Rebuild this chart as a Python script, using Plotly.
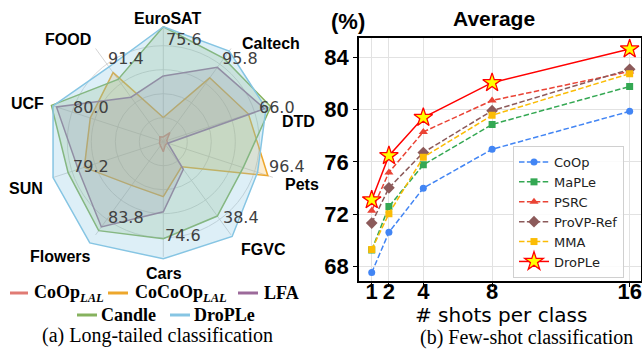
import plotly.graph_objects as go

W, H = 642, 352

# ---------------- (a) Long-tailed classification: radar data (normalised radius) -------------
radar_axes = ["EuroSAT", "Caltech", "DTD", "Pets", "FGVC", "Cars", "Flowers", "SUN", "UCF", "FOOD"]
radar_axis_values = ["75.6", "95.8", "66.0", "96.4", "38.4", "74.6", "83.8", "79.2", "80.0", "91.4"]
coop_lal = [0.20, 0.47, 0.15, 0.20, 0.15, 0.42, 0.20, 0.17, 0.15, 0.25]
cocoop_lal = [1.01, 3.29, 3.73, 4.58, 1.29, 2.29, 2.25, 3.46, 3.20, 3.56]
lfa = [2.74, 3.83, 4.44, 0.20, 1.42, 2.92, 4.39, 3.73, 4.68, 2.29]
candle = [4.79, 4.29, 4.71, 3.50, 3.83, 4.04, 4.58, 4.17, 4.90, 3.21]
drople_lt = [4.79, 4.67, 4.50, 4.13, 4.88, 4.88, 5.21, 4.83, 4.83, 3.85]
radar_names = ["CoOp<sub><i>LAL</i></sub>", "CoCoOp<sub><i>LAL</i></sub>", "LFA", "Candle", "DroPLe"]

# ---------------- (b) Few-shot classification ----------------
shots = [1, 2, 4, 8, 16]
coop = [67.55, 70.62, 74.00, 76.97, 79.87]
maple = [69.27, 72.59, 75.78, 78.87, 81.77]
psrc = [72.28, 75.20, 78.30, 80.70, 82.92]
provp = [71.33, 74.02, 76.72, 79.92, 83.08]
mma = [69.30, 72.05, 76.36, 79.57, 82.75]
drople = [73.10, 76.48, 79.40, 82.06, 84.64]
y_ticks = [68, 72, 76, 80, 84]


def px(x):
    return x / W


def py(y):
    return 1 - y / H


fig = go.Figure()

# ---- radar ----
R_MAX = 5.35
R_SPOKE = 4.8
cx, cy = 163.3, 141.7
rpx = 24.0 * R_MAX

for name in radar_axes:
    fig.add_trace(go.Scatterpolar(r=[0, R_SPOKE], theta=[name, name], mode="lines",
                                  line=dict(color="#cfcfcf", width=0.9),
                                  showlegend=False, hoverinfo="skip"))

radar_series = [coop_lal, cocoop_lal, lfa, candle, drople_lt]
radar_line = ["#E07B74", "#EDA72C", "#9C6A9A", "#86B25E", "#86C5E3"]
radar_fill = ["rgba(224,123,116,0.25)", "rgba(237,167,44,0.22)", "rgba(156,106,154,0.22)",
              "rgba(134,178,94,0.22)", "rgba(134,197,227,0.28)"]
for vals, lc, fc, nm in zip(radar_series, radar_line, radar_fill, radar_names):
    fig.add_trace(go.Scatterpolar(r=vals + vals[:1], theta=radar_axes + radar_axes[:1],
                                  mode="lines", fill="toself", fillcolor=fc,
                                  line=dict(color=lc, width=1.5), name=nm, showlegend=False))

# ---- line chart ----
dash = "5.5px,2.4px"
line_series = [
    ("CoOp", coop, "#4285F4", "circle", 7, dash),
    ("MaPLe", maple, "#34A853", "square", 7, dash),
    ("PSRC", psrc, "#EA4335", "triangle-up", 8, dash),
    ("ProVP-Ref", provp, "#8C5A5A", "diamond", 9, dash),
    ("MMA", mma, "#FBBC05", "square", 7, dash),
]
for nm, ys, col, sym, sz, ds in line_series:
    fig.add_trace(go.Scatter(x=shots, y=ys, mode="lines+markers", name=nm,
                             line=dict(color=col, width=1.5, dash=ds),
                             marker=dict(symbol=sym, size=sz, color=col),
                             xaxis="x", yaxis="y"))
fig.add_trace(go.Scatter(x=shots, y=drople, mode="lines+markers", name="DroPLe",
                         line=dict(color="#FF0000", width=1.5),
                         marker=dict(symbol="star", size=14, color="#FFFF00",
                                     line=dict(color="#FF0000", width=1.3)),
                         xaxis="x", yaxis="y"))

x0, x1, y0, y1 = 359, 641, 37.7, 281
fig.update_layout(
    width=W, height=H, margin=dict(l=0, r=0, t=0, b=0),
    paper_bgcolor="white", plot_bgcolor="white",
    polar=dict(
        domain=dict(x=[px(cx - rpx), px(cx + rpx)], y=[py(cy + rpx), py(cy - rpx)]),
        bgcolor="rgba(0,0,0,0)",
        radialaxis=dict(range=[0, R_MAX], tickvals=[1, 2, 3, 4], showticklabels=False,
                        ticks="", showline=False, gridcolor="#d6d6d6", gridwidth=0.9),
        angularaxis=dict(rotation=90, direction="clockwise", categoryorder="array",
                         categoryarray=radar_axes, showgrid=False, showline=False,
                         showticklabels=False, ticks=""),
    ),
    xaxis=dict(domain=[px(x0), px(x1)], range=[0.26, 16.66], tickvals=shots,
               ticktext=[str(s) for s in shots], showline=True, mirror=True,
               linecolor="black", linewidth=1.5, ticks="outside", ticklen=4,
               tickcolor="black", showgrid=True, gridcolor="#e2e2e2", zeroline=False,
               ticklabelstandoff=-14,
               tickfont=dict(family="Liberation Sans", size=22, color="black", weight="bold")),
    yaxis=dict(domain=[py(y1), py(y0)], range=[66.9, 85.5], tickvals=y_ticks,
               showline=True, mirror=True, linecolor="black", linewidth=1.5,
               ticks="outside", ticklen=4, tickcolor="black", showgrid=True,
               gridcolor="#e2e2e2", zeroline=False,
               tickfont=dict(family="Liberation Sans", size=22, color="black", weight="bold")),
    legend=dict(x=px(513), y=py(146), xanchor="left", yanchor="top",
                bgcolor="rgba(255,255,255,0.85)", bordercolor="#d0d0d0", borderwidth=1,
                font=dict(family="DejaVu Sans", size=13, color="#222")),
)

ann = []


def add_text(x, y, text, family, size, color="black", bold=False, xanchor="center"):
    ann.append(dict(x=px(x), y=py(y), xref="paper", yref="paper", text=text,
                    showarrow=False, xanchor=xanchor, yanchor="middle",
                    font=dict(family=family, size=size, color=color,
                              weight="bold" if bold else "normal")))


# radar category labels
cat_pos = [(168, 18), (271, 43), (298, 121), (302, 184), (263, 249),
           (164, 273), (60, 256), (26, 188), (27, 104), (68, 39)]
for name, (x, y) in zip(radar_axes, cat_pos):
    add_text(x, y, name, "Liberation Sans", 16, bold=True)
val_pos = [(184, 39), (240, 58), (277, 107), (287, 166), (241, 217),
           (183, 235), (126, 217), (91, 167), (91, 107), (126, 58)]
for v, (x, y) in zip(radar_axis_values, val_pos):
    add_text(x, y, v, "DejaVu Sans", 16, color="#404040")

# radar legend (manual, two rows)
leg_items = [(10, 28, 32, 293), (108, 128, 133, 293), (238, 258, 262, 293),
             (77, 97, 99, 315), (170, 190, 192, 315)]
shapes = []
for (lx0, lx1, tx, ly), nm, col in zip(leg_items, radar_names, radar_line):
    shapes.append(dict(type="line", xref="paper", yref="paper", x0=px(lx0), x1=px(lx1),
                       y0=py(ly), y1=py(ly), line=dict(color=col, width=3)))
    add_text(tx, ly, nm, "Liberation Serif", 18, bold=True, xanchor="left")

# right panel texts
add_text(494, 19, "Average", "Liberation Sans", 21, bold=True)
add_text(348, 21, "(%)", "Liberation Sans", 22, bold=True)
add_text(501, 315, "# shots per class", "DejaVu Sans", 20)
add_text(526, 337, "(b) Few-shot classification", "Liberation Serif", 20)
add_text(157, 335, "(a) Long-tailed classification", "Liberation Serif", 20)

fig.update_layout(annotations=ann, shapes=shapes)
fig.write_html("out.html", config={"displayModeBar": False},
               post_script="document.body.style.margin='0px';document.body.style.overflow='hidden';")
